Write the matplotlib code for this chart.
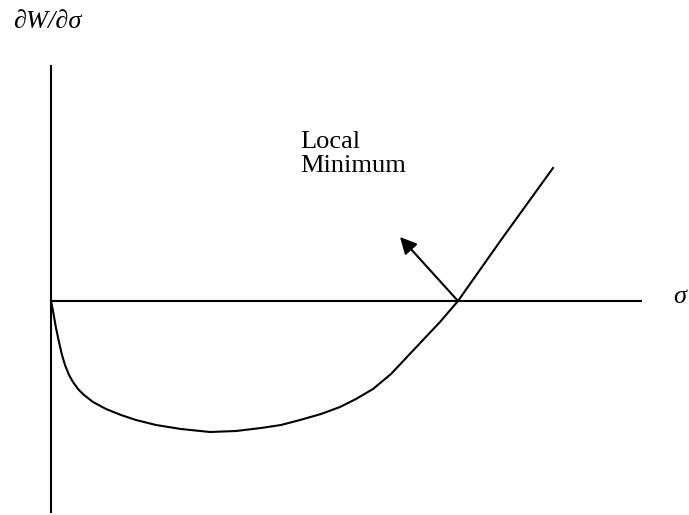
import matplotlib
matplotlib.use("Agg")
import matplotlib.pyplot as plt

# curve (sigma, dW/dsigma) in arbitrary schematic units
sigma = [0.0, 0.02, 0.05, 0.08, 0.11, 0.14, 0.18, 0.22, 0.27, 0.33, 0.42, 0.55,
         0.70, 0.85, 1.05, 1.30, 1.59, 1.85, 2.10, 2.30, 2.49, 2.70, 2.89, 3.05,
         3.22, 3.40, 3.56, 3.72, 3.89, 4.07, 4.50, 5.02]
dW = [0.0, -0.10, -0.27, -0.41, -0.54, -0.64, -0.74, -0.81, -0.88, -0.94, -1.01, -1.08,
      -1.14, -1.19, -1.24, -1.28, -1.31, -1.30, -1.27, -1.24, -1.19, -1.13, -1.06, -0.98,
      -0.88, -0.73, -0.56, -0.39, -0.21, 0.0, 0.61, 1.33]

# axis extents
y_axis_top, y_axis_bottom = 2.36, -2.12
x_axis_end = 5.91

# arrow from the local minimum point
arrow_tail = (4.07, 0.0)
arrow_head = (3.49, 0.64)

fig = plt.figure(figsize=(6.89, 5.15), dpi=100)
ax = fig.add_axes([0, 0, 1, 1])
ax.set_xlim(-0.51, 6.38)
ax.set_ylim(-2.14, 3.01)
ax.axis("off")

lw = 1.5
ax.plot([0, 0], [y_axis_bottom, y_axis_top], color="black", lw=lw, solid_capstyle="butt")
ax.plot([0, x_axis_end], [0, 0], color="black", lw=lw, solid_capstyle="butt")
ax.plot(sigma, dW, color="black", lw=lw, solid_joinstyle="round")

ax.annotate("", xy=arrow_head, xytext=arrow_tail,
            arrowprops=dict(arrowstyle="-|>,head_length=1.0,head_width=0.5",
                            color="black", lw=lw, shrinkA=0, shrinkB=0))

font = "Liberation Serif"
ax.text(-0.38, 2.79, "∂W/∂σ", family=font, style="italic", fontsize=19,
        ha="left", va="center")
ax.text(2.49, 1.70, "Local\nMinimum", family=font, fontsize=19,
        ha="left", va="top", linespacing=1.1)
ax.text(6.22, 0.04, "σ", family=font, style="italic", fontsize=19,
        ha="left", va="center")

fig.savefig("out.png", dpi=100)
